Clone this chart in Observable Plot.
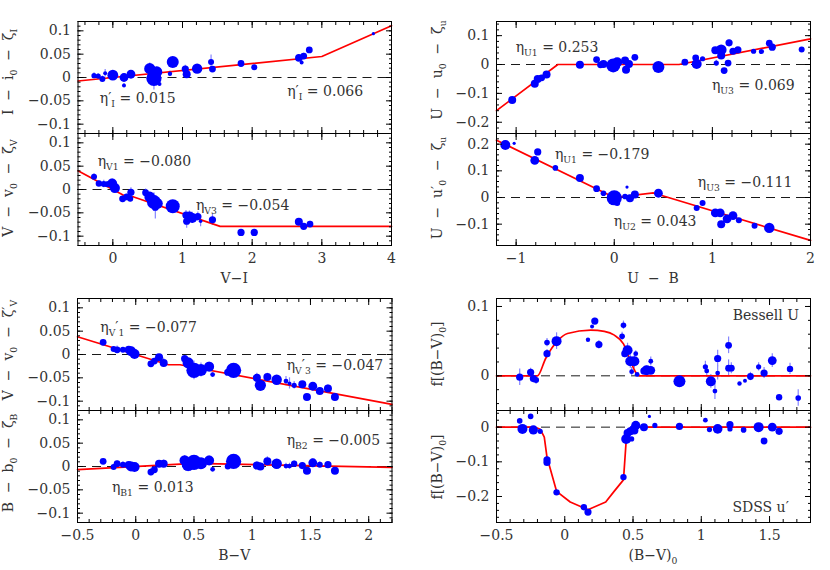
<!DOCTYPE html>
<html><head><meta charset="utf-8">
<script src="https://cdn.jsdelivr.net/npm/d3@7"></script>
<script src="https://cdn.jsdelivr.net/npm/@observablehq/plot@0.6"></script>
<style>
body{margin:0;background:#fff;}
#wrap{position:relative;width:830px;height:570px;overflow:hidden;background:#fff;}
#wrap svg{position:absolute;overflow:visible;}
#wrap text{white-space:pre;}
</style></head><body><div id="wrap"></div>
<script>
// ---------- Panel 1: I - i0 - zeta_I vs V-I ----------
const p1_vi = [-0.27,-0.21,-0.15,-0.11,0.00,0.16,0.16,0.26,0.53,0.59,0.63,0.67,0.82,0.86,1.04,1.06,1.21,1.41,1.43,1.84,2.03,2.67,2.71,2.74,2.82,3.74];
const p1_dI = [0.004,0.003,-0.003,0.009,0.005,0.0,-0.017,0.007,0.019,-0.002,0.012,-0.014,0.008,0.033,0.018,0.007,0.019,0.033,0.018,0.030,0.022,0.042,0.032,0.046,0.059,0.094];
const p1_wt = [1.3,1.3,1.5,1.0,2.7,2.2,1.0,2.2,2.8,3.8,2.8,1.0,1.1,3.0,1.8,2.0,2.6,1.5,1.7,1.7,1.5,1.9,1.0,1.7,1.7,0.8];
const p1_err = [0.006,0.005,0.006,0.008,0.008,0.008,0.004,0.008,0.012,0.025,0.01,0.004,0.006,0.01,0.008,0.008,0.008,0.015,0.006,0.006,0.004,0.006,0.004,0.006,0.004,0.002];
const p1_fitX = [-0.5, 3.0, 4.0];
const p1_fitY = [-0.0075, 0.045, 0.111];

// ---------- Panel 2: V - v0 - zeta_V vs V-I ----------
const p2_vi = [-0.27,-0.20,-0.13,-0.08,-0.01,0.03,0.14,0.20,0.26,0.25,0.47,0.53,0.59,0.64,0.61,0.86,1.05,1.10,1.06,1.14,1.22,1.26,1.43,1.84,2.03,2.67,2.74,2.83];
const p2_dV = [0.0275,0.013,0.012,0.011,0.013,0.003,-0.020,-0.016,-0.006,-0.020,-0.007,-0.016,-0.027,-0.030,-0.038,-0.036,-0.055,-0.058,-0.068,-0.061,-0.058,-0.068,-0.065,-0.092,-0.092,-0.069,-0.079,-0.074];
const p2_wt = [1.5,1.6,1.5,1.5,2.5,2.5,1.7,1.7,1.8,1.5,1.7,2.7,3.5,2.7,1.8,3.5,1.8,2.5,1.8,2.5,1.8,0.9,1.8,1.8,1.8,2.0,1.8,1.7];
const p2_err = [0.006,0.006,0.008,0.006,0.01,0.008,0.008,0.006,0.01,0.006,0.008,0.01,0.02,0.01,0.025,0.01,0.01,0.012,0.015,0.012,0.01,0.012,0.012,0.006,0.006,0.006,0.006,0.006];
const p2_fitX = [-0.5, 0.20, 0.30, 1.54, 4.0];
const p2_fitY = [0.040, -0.016, -0.016, -0.079, -0.079];

// ---------- Panel 3: U - u0 - zeta_u vs U-B ----------
const p3_ub = [-1.04,-0.81,-0.78,-0.74,-0.69,-0.35,-0.18,-0.14,-0.11,-0.01,0.03,0.11,0.12,0.15,0.21,0.45,0.72,0.83,0.84,0.90,1.03,1.09,1.09,1.04,1.12,1.16,1.17,1.21,1.26,1.42,1.50,1.58,1.61,1.91];
const p3_dU = [-0.123,-0.067,-0.050,-0.046,-0.035,-0.001,0.017,-0.001,0.002,-0.003,0.008,0.014,-0.018,0.002,0.025,-0.009,0.008,0.023,0.002,0.020,0.049,0.051,0.031,0.005,-0.021,0.005,0.075,0.046,0.051,0.046,0.045,0.074,0.060,0.052];
const p3_wt = [2,2,2,1.7,2,2,1.7,1.7,2,3.5,2.5,2,2,2,1.7,3,1.7,1.7,2.5,1.3,2,2.7,2,1.3,1.7,1.7,1.8,1.8,1.8,1.3,1.3,1.7,1.8,1.5];
const p3_err = [0.008,0.006,0.006,0.004,0.006,0.004,0.004,0.006,0.008,0.02,0.01,0.008,0.006,0.006,0.004,0.008,0.004,0.008,0.006,0.004,0.008,0.012,0.008,0.01,0.006,0.006,0.01,0.006,0.006,0.004,0.004,0.006,0.006,0.006];
const p3_fitX = [-1.2, -0.575, 0.66, 2.0];
const p3_fitY = [-0.160, 0.0, 0.0, 0.089];

// ---------- Panel 4: U - u'0 - zeta_u vs U-B ----------
const p4_ub = [-1.11,-1.02,-0.81,-0.78,-0.60,-0.35,-0.18,-0.11,0.00,0.03,0.11,0.13,0.16,0.21,0.45,0.84,0.90,1.03,1.08,1.09,1.15,1.21,1.27,1.43,1.58];
const p4_dU = [0.197,0.203,0.139,0.171,0.111,0.073,0.033,0.016,-0.001,-0.021,0.004,0.039,-0.003,0.011,0.016,-0.039,-0.021,-0.058,-0.058,-0.100,-0.080,-0.068,-0.085,-0.106,-0.114];
const p4_wt = [2.5,0.8,2.2,1.8,1.4,2,1.7,1.4,3.8,1.5,1.4,0.8,2,2,2.2,1.5,1.5,2.2,2.2,2,2.2,2.2,1.5,1.5,2.6];
const p4_err = [0.006,0,0.006,0.006,0,0.006,0.004,0,0.02,0.006,0,0,0.006,0.004,0.004,0,0,0.006,0.006,0.006,0.006,0.006,0,0,0.006];
const p4_fitX = [-1.2, 0.0, 0.40, 2.0];
const p4_fitY = [0.215, 0.0, 0.017, -0.161];

// ---------- Panel 5: V - v0 - zeta'_V vs B-V ----------
const p5_bv = [-0.28,-0.19,-0.16,-0.11,-0.06,-0.04,-0.01,0.13,0.16,0.20,0.24,0.42,0.45,0.50,0.56,0.63,0.66,0.79,0.84,1.04,1.07,1.13,1.21,1.29,1.32,1.36,1.43,1.47,1.52,1.58,1.65,1.71];
const p5_dV = [0.026,0.012,0.010,0.010,0.010,0.007,0.001,-0.020,-0.014,-0.006,-0.018,-0.009,-0.018,-0.034,-0.033,-0.026,-0.043,-0.038,-0.034,-0.050,-0.066,-0.048,-0.054,-0.057,-0.062,-0.066,-0.064,-0.091,-0.068,-0.078,-0.073,-0.091];
const p5_wt = [1.7,1.5,1.7,1.5,2,2.5,2.5,1.7,1.7,2,2,1.8,2.8,3.8,3,2.5,1.2,1.8,3.8,2,2.8,2,2.6,1.2,1,1.3,2,2,2.2,2,2,2];
const p5_err = [0.006,0.004,0.008,0.004,0.006,0.006,0.006,0.008,0.006,0.006,0.01,0.006,0.01,0.02,0.015,0.01,0.004,0.004,0.006,0.01,0.01,0.008,0.006,0.01,0.012,0.008,0.006,0.006,0.006,0.006,0.008,0.008];
const p5_fitX = [-0.5, 0.28, 0.38, 2.2];
const p5_fitY = [0.038, -0.022, -0.022, -0.107];

// ---------- Panel 6: B - b0 - zeta_B vs B-V ----------
const p6_bv = [-0.28,-0.19,-0.16,-0.11,-0.06,-0.04,-0.01,0.13,0.16,0.20,0.24,0.42,0.45,0.50,0.56,0.63,0.66,0.79,0.84,1.04,1.07,1.13,1.21,1.29,1.32,1.36,1.43,1.47,1.52,1.58,1.65,1.71];
const p6_dB = [0.011,-0.001,0.006,0.004,0.003,0.0,-0.001,-0.012,-0.007,0.006,0.006,0.013,0.004,0.009,0.007,0.013,-0.006,0.0,0.011,0.002,0.0,0.011,0.006,0.001,0.001,0.006,0.002,-0.009,0.008,0.004,0.004,-0.009];
const p6_wt = [1.7,1.5,1.7,1.5,2,2.5,2.5,1.7,1.7,2,2,2.6,3.2,3.8,3,2.5,1.2,1.5,3.8,2,2,2,2.6,1.2,1.2,1.6,1.8,2,2.2,1.5,1.8,2];
const p6_err = [0.004,0.006,0.006,0.006,0.006,0.008,0.008,0.008,0.006,0.006,0.008,0.01,0.015,0.01,0.01,0.01,0.004,0.004,0.006,0.008,0.008,0.01,0.006,0.006,0.006,0.006,0.006,0.008,0.008,0.006,0.006,0.008];
const p6_fitX = [-0.5, 0.5, 2.2];
const p6_fitY = [-0.0065, 0.0065, -0.002];

// ---------- Panel 7: Bessell U, f[(B-V)0] ----------
const p7_bv = [-0.33,-0.25,-0.23,-0.21,-0.13,-0.13,-0.06,0.17,0.20,0.22,0.25,0.42,0.43,0.44,0.46,0.48,0.49,0.51,0.52,0.53,0.58,0.60,0.63,0.63,0.84,1.03,1.04,1.07,1.10,1.12,1.12,1.20,1.20,1.22,1.28,1.32,1.36,1.42,1.46,1.52,1.57,1.65,1.71];
const p7_f = [-0.002,0.005,-0.004,-0.006,0.032,0.048,0.050,0.052,0.071,0.079,0.045,0.057,0.073,0.032,0.037,0.021,0.006,0.021,0.032,0.002,0.007,0.008,0.021,0.008,-0.008,0.013,0.007,-0.008,-0.022,0.025,0.004,0.044,0.011,0.011,-0.011,-0.007,-0.001,0.013,0.004,0.022,-0.031,0.010,-0.032];
const p7_wt = [1.8,1.8,1.8,1.5,1.8,1.4,2.5,1.1,1.0,1.8,1.8,1.4,1.4,1.8,2.5,2.5,1.2,2.5,1.2,1.2,1.8,2.5,1.2,2.2,3.0,1.3,1.2,2.5,1.2,1.8,1.2,1.7,1.7,1.7,1.1,1.0,1.7,1.3,1.8,2.2,1.6,1.6,1.4];
const p7_err = [0.012,0.006,0.006,0.006,0.006,0.006,0.012,0,0,0.004,0.006,0.006,0.006,0.006,0.01,0.01,0.006,0.01,0.004,0,0.006,0.006,0.006,0.006,0.008,0.008,0.008,0.01,0.012,0.012,0.01,0.012,0.012,0.008,0,0,0.006,0.006,0.008,0.01,0,0.008,0.012];
const p7_fitX = [-0.5,-0.20,-0.14,-0.05,0.02,0.19,0.29,0.36,0.43,0.48,0.53,0.55,1.8];
const p7_fitY = [0,0,0.025,0.051,0.061,0.066,0.064,0.059,0.046,0.022,0.002,0,0];

// ---------- Panel 8: SDSS u', f[(B-V)0] ----------
const p8_bv = [-0.33,-0.25,-0.31,-0.23,-0.18,-0.13,-0.13,-0.06,0.14,0.17,0.43,0.45,0.46,0.48,0.49,0.50,0.51,0.52,0.58,0.62,0.66,0.84,1.03,1.06,1.12,1.21,1.21,1.31,1.42,1.46,1.52,1.57];
const p8_f = [0.018,0.031,-0.005,-0.008,-0.012,-0.094,-0.102,-0.188,-0.231,-0.245,-0.144,-0.034,-0.017,-0.012,-0.034,-0.005,-0.010,0.005,0.0,0.031,0.005,0.002,0.020,-0.007,-0.005,0.007,-0.005,-0.008,0.0,-0.040,0.0,-0.012];
const p8_wt = [1.4,1.4,2.5,2.3,1.3,1.8,1.8,1.6,1.6,1.8,1.6,2.5,2.0,2.0,1.3,1.8,2.0,2.3,2.0,0.8,1.3,1.8,1.2,1.3,2.4,1.8,1.3,1.4,2.5,1.7,2.2,1.8];
const p8_err = [0,0,0.004,0.004,0,0.004,0.004,0,0,0,0,0.006,0.006,0.006,0,0.008,0.006,0.008,0.004,0,0,0.004,0,0,0.004,0.004,0,0,0.004,0,0.004,0.004];
const p8_fitX = [-0.5,-0.22,-0.18,-0.15,-0.13,-0.06,0.04,0.17,0.30,0.36,0.43,0.45,0.47,0.49,1.8];
const p8_fitY = [0,0,-0.006,-0.029,-0.087,-0.185,-0.216,-0.238,-0.216,-0.186,-0.152,-0.038,-0.005,0,0];

// ---------- tick labels ----------
const ticksViX = [0,1,2,3,4];
const ticksUbX = [-1,0,1,2];
const ticksBvX = [-0.5,0,0.5,1,1.5,2];
const ticksB0X = [-0.5,0,0.5,1,1.5];
const ticksY12 = [-0.1,-0.05,0,0.05,0.1];
const ticksY3 = [-0.2,-0.1,0,0.1];
const ticksY4 = [-0.1,0,0.1,0.2];
const ticksY7 = [0,0.1];
const ticksY8 = [-0.2,-0.1,0];

// ---------- drawing ----------
const FONT = '"DejaVu Serif","Liberation Serif",serif';
const FS = 14;
const INK = "#333";
const wrap = document.getElementById("wrap");
const fmt = d => d === 0 ? "0" : (d < 0 ? "\u2212" : "") + String(Math.abs(d));
function every(lo, hi, step) {
  const a = Math.ceil(lo / step - 1e-9), b = Math.floor(hi / step + 1e-9);
  return d3.range(a, b + 1).map(i => +(i * step).toFixed(10));
}
function rich(sel, parts, x, y, {anchor = "start", size = FS, rotate = 0} = {}) {
  const t = sel.append("text")
    .attr("text-anchor", anchor)
    .attr("font-family", FONT)
    .attr("font-size", size)
    .attr("fill", INK)
    .style("white-space", "pre");
  if (rotate) t.attr("transform", `translate(${x},${y}) rotate(${rotate})`);
  else t.attr("x", x).attr("y", y);
  let shift = 0;
  for (const p of parts) {
    const [s, kind] = typeof p === "string" ? [p, ""] : p;
    const target = kind === "sub" ? 4 : 0;
    t.append("tspan").attr("dy", target - shift).attr("font-size", kind ? size * 0.66 : size).text(s);
    shift = target;
  }
}

function panel(c) {
  const W = 420;
  const top = c.y0 - 6;
  const mL = c.x0 - c.left, mR = c.left + W - c.x1, mT = 6, mB = c.xLabels ? 50 : 6;
  const H = mT + (c.y1 - c.y0) + mB;
  const pts = c.x.map((v, i) => ({x: v, y: c.y[i], w: c.w[i], e: c.e[i]}));
  const fit = c.fx.map((v, i) => ({x: v, y: c.fy[i]}));
  const xd = c.xDomain, yd = c.yDomain;
  const marks = [
    Plot.ruleY([0], {stroke: "#000", strokeWidth: 0.9, strokeDasharray: "9,6"}),
    Plot.ruleX(pts.filter(d => d.e > 0), {x: "x", y1: d => d.y - d.e, y2: d => d.y + d.e, stroke: "#8585ff", strokeWidth: 1.2}),
    Plot.line(fit, {x: "x", y: "y", stroke: "#ff0000", strokeWidth: 1.7, curve: c.curve || "linear"}),
    Plot.dot(pts, {x: "x", y: "y", r: "w", fill: "#0000ff", stroke: "none"}),
    Plot.frame({stroke: "#000", strokeWidth: 1}),
    Plot.axisX(every(xd[0], xd[1], c.xMaj), {anchor: "bottom", tickSize: -6, fill: "none", label: null}),
    Plot.axisX(every(xd[0], xd[1], c.xMaj), {anchor: "top", tickSize: -6, fill: "none", label: null}),
    Plot.axisX(every(xd[0], xd[1], c.xMin), {anchor: "bottom", tickSize: -3, fill: "none", label: null}),
    Plot.axisX(every(xd[0], xd[1], c.xMin), {anchor: "top", tickSize: -3, fill: "none", label: null}),
    Plot.axisY(c.yMaj, {anchor: "left", tickSize: -6, fill: "none", label: null}),
    Plot.axisY(c.yMaj, {anchor: "right", tickSize: -6, fill: "none", label: null}),
    Plot.axisY(every(yd[0], yd[1], c.yMin), {anchor: "left", tickSize: -3, fill: "none", label: null}),
    Plot.axisY(every(yd[0], yd[1], c.yMin), {anchor: "right", tickSize: -3, fill: "none", label: null}),
    Plot.axisY(c.yLabels, {anchor: "left", tickSize: 0, tickPadding: 7, label: null, tickFormat: fmt, fill: INK})
  ];
  if (c.xLabels) marks.push(Plot.axisX(c.xLabels, {anchor: "bottom", tickSize: 0, tickPadding: 8, label: null, tickFormat: fmt, fill: INK}));
  const plot = Plot.plot({
    width: W, height: H,
    marginLeft: mL, marginRight: mR, marginTop: mT, marginBottom: mB,
    x: {domain: xd}, y: {domain: yd},
    r: {type: "linear", domain: [0, 4], range: [0, 8]},
    style: {fontFamily: FONT, fontSize: FS + "px", background: "transparent", color: "#000"},
    marks
  });
  plot.style.left = c.left + "px";
  plot.style.top = top + "px";
  wrap.appendChild(plot);
  const sx = plot.scale("x"), sy = plot.scale("y");
  const svg = d3.select(plot);
  rich(svg, c.yTitle, c.yTitleX - c.left, c.yTitleY - top, {anchor: "middle", rotate: -90});
  if (c.xTitle) rich(svg, c.xTitle, (c.x0 + c.x1) / 2 - c.left, c.y1 - top + 38, {anchor: "middle"});
  for (const n of c.notes) {
    rich(svg, n.parts, sx.apply(n.x), sy.apply(n.y) + 5, {anchor: n.anchor || "start"});
  }
}

const Lx0 = 77.5, Lx1 = 391, Rx0 = 496, Rx1 = 810;
const LT = 13, RT = 442;

panel({left: 0, x0: Lx0, x1: Lx1, y0: 21, y1: 133,
  x: p1_vi, y: p1_dI, w: p1_wt, e: p1_err, fx: p1_fitX, fy: p1_fitY,
  xDomain: [-0.5, 4], yDomain: [-0.12, 0.12], xMaj: 1, xMin: 0.2, yMaj: every(-0.12, 0.12, 0.05), yMin: 0.01,
  yLabels: ticksY12, xLabels: null,
  yTitle: ["I  \u2212  i", ["0", "sub"], "  \u2212  \u03B6", ["I", "sub"]], yTitleX: LT, yTitleY: 72,
  notes: [
    {x: -0.18, y: -0.044, parts: ["\u03B7\u2032", ["I", "sub"], " = 0.015"]},
    {x: 2.51, y: -0.031, parts: ["\u03B7\u2032", ["I", "sub"], " = 0.066"]}
  ]});

panel({left: 0, x0: Lx0, x1: Lx1, y0: 133, y1: 245,
  x: p2_vi, y: p2_dV, w: p2_wt, e: p2_err, fx: p2_fitX, fy: p2_fitY,
  xDomain: [-0.5, 4], yDomain: [-0.12, 0.12], xMaj: 1, xMin: 0.2, yMaj: every(-0.12, 0.12, 0.05), yMin: 0.01,
  yLabels: ticksY12, xLabels: ticksViX, xTitle: ["V\u2212I"],
  yTitle: ["V  \u2212  v", ["0", "sub"], "  \u2212  \u03B6", ["V", "sub"]], yTitleX: LT, yTitleY: 188,
  notes: [
    {x: -0.21, y: 0.059, parts: ["\u03B7", ["V1", "sub"], " = \u22120.080"]},
    {x: 1.2, y: -0.034, parts: ["\u03B7", ["V3", "sub"], " = \u22120.054"]}
  ]});

panel({left: 410, x0: Rx0, x1: Rx1, y0: 21, y1: 133,
  x: p3_ub, y: p3_dU, w: p3_wt, e: p3_err, fx: p3_fitX, fy: p3_fitY,
  xDomain: [-1.2, 2], yDomain: [-0.239, 0.149], xMaj: 1, xMin: 0.2, yMaj: every(-0.239, 0.149, 0.1), yMin: 0.02,
  yLabels: ticksY3, xLabels: null,
  yTitle: ["U  \u2212  u", ["0", "sub"], "  \u2212  \u03B6", ["u", "sub"]], yTitleX: RT, yTitleY: 70,
  notes: [
    {x: -1.0, y: 0.059, parts: ["\u03B7", ["U1", "sub"], " = 0.253"]},
    {x: 1.0, y: -0.073, parts: ["\u03B7", ["U3", "sub"], " = 0.069"]}
  ]});

panel({left: 410, x0: Rx0, x1: Rx1, y0: 133, y1: 245,
  x: p4_ub, y: p4_dU, w: p4_wt, e: p4_err, fx: p4_fitX, fy: p4_fitY,
  xDomain: [-1.2, 2], yDomain: [-0.18, 0.24], xMaj: 1, xMin: 0.2, yMaj: every(-0.18, 0.24, 0.1), yMin: 0.02,
  yLabels: ticksY4, xLabels: ticksUbX, xTitle: ["U  \u2212  B"],
  yTitle: ["U  \u2212  u\u2032", ["0", "sub"], "  \u2212  \u03B6", ["u", "sub"]], yTitleX: RT, yTitleY: 188,
  notes: [
    {x: -0.6, y: 0.162, parts: ["\u03B7", ["U1", "sub"], " = \u22120.179"]},
    {x: 0.857, y: 0.056, parts: ["\u03B7", ["U3", "sub"], " = \u22120.111"]},
    {x: 0.0, y: -0.09, parts: ["\u03B7", ["U2", "sub"], " = 0.043"]}
  ]});

panel({left: 0, x0: 77, x1: 391.5, y0: 298, y1: 410,
  x: p5_bv, y: p5_dV, w: p5_wt, e: p5_err, fx: p5_fitX, fy: p5_fitY,
  xDomain: [-0.5, 2.2], yDomain: [-0.12, 0.12], xMaj: 0.5, xMin: 0.1, yMaj: every(-0.12, 0.12, 0.05), yMin: 0.01,
  yLabels: ticksY12, xLabels: null,
  yTitle: ["V  \u2212  v", ["0", "sub"], "  \u2212  \u03B6\u2032", ["V", "sub"]], yTitleX: LT, yTitleY: 350,
  notes: [
    {x: -0.30, y: 0.057, parts: ["\u03B7", ["V", "sub"], "\u2032", ["1", "sub"], " = \u22120.077"]},
    {x: 1.30, y: -0.023, parts: ["\u03B7", ["V", "sub"], "\u2032", ["3", "sub"], " = \u22120.047"]}
  ]});

panel({left: 0, x0: 77, x1: 391.5, y0: 410, y1: 522,
  x: p6_bv, y: p6_dB, w: p6_wt, e: p6_err, fx: p6_fitX, fy: p6_fitY,
  xDomain: [-0.5, 2.2], yDomain: [-0.12, 0.12], xMaj: 0.5, xMin: 0.1, yMaj: every(-0.12, 0.12, 0.05), yMin: 0.01,
  yLabels: ticksY12, xLabels: ticksBvX, xTitle: ["B\u2212V"],
  yTitle: ["B  \u2212  b", ["0", "sub"], "  \u2212  \u03B6", ["B", "sub"]], yTitleX: LT, yTitleY: 463,
  notes: [
    {x: 1.30, y: 0.055, parts: ["\u03B7", ["B2", "sub"], " = \u22120.005"]},
    {x: -0.20, y: -0.045, parts: ["\u03B7", ["B1", "sub"], " = 0.013"]}
  ]});

panel({left: 410, x0: Rx0, x1: Rx1, y0: 298, y1: 410,
  x: p7_bv, y: p7_f, w: p7_wt, e: p7_err, fx: p7_fitX, fy: p7_fitY, curve: "monotone-x",
  xDomain: [-0.5, 1.8], yDomain: [-0.05, 0.1115], xMaj: 0.5, xMin: 0.1, yMaj: [0, 0.1], yMin: 0.02,
  yLabels: ticksY7, xLabels: null,
  yTitle: ["f[(B\u2212V)", ["0", "sub"], "]"], yTitleX: RT, yTitleY: 354,
  notes: [
    {x: 1.72, y: 0.087, anchor: "end", parts: ["Bessell U"]}
  ]});

panel({left: 410, x0: Rx0, x1: Rx1, y0: 410, y1: 522,
  x: p8_bv, y: p8_f, w: p8_wt, e: p8_err, fx: p8_fitX, fy: p8_fitY,
  xDomain: [-0.5, 1.8], yDomain: [-0.275, 0.048], xMaj: 0.5, xMin: 0.1, yMaj: every(-0.275, 0.048, 0.1), yMin: 0.02,
  yLabels: ticksY8, xLabels: ticksB0X, xTitle: ["(B\u2212V)", ["0", "sub"]],
  yTitle: ["f[(B\u2212V)", ["0", "sub"], "]"], yTitleX: RT, yTitleY: 467,
  notes: [
    {x: 1.645, y: -0.231, anchor: "end", parts: ["SDSS u\u2032"]}
  ]});
</script></body></html>
